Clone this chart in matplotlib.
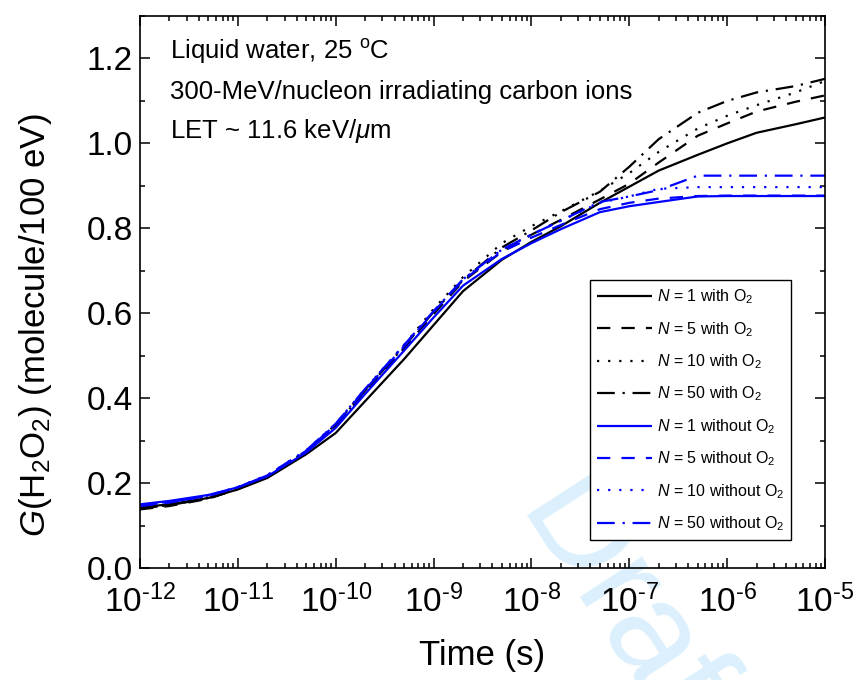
import matplotlib
matplotlib.use("Agg")
import matplotlib.pyplot as plt
import numpy as np

plt.rcParams['font.family'] = ['Liberation Sans', 'DejaVu Sans']
plt.rcParams['mathtext.fontset'] = 'custom'
plt.rcParams['mathtext.rm'] = 'Liberation Sans'
plt.rcParams['mathtext.it'] = 'Liberation Sans:italic'
plt.rcParams['mathtext.bf'] = 'Liberation Sans:bold'
plt.rcParams['axes.unicode_minus'] = False

# ---- data ----
time_s = [1e-12, 2e-12, 5e-12, 1e-11, 2e-11, 5e-11, 1e-10, 2e-10, 5e-10, 1e-9, 2e-9,
          5e-9, 1e-8, 2e-8, 5e-8, 1e-7, 2e-7, 5e-7, 1e-6, 2e-6, 5e-6, 1e-5]

n1_with_o2 = [0.143, 0.150, 0.165, 0.185, 0.212, 0.268, 0.318, 0.393, 0.492, 0.572, 0.652,
              0.726, 0.768, 0.805, 0.860, 0.898, 0.936, 0.973, 1.000, 1.025, 1.045, 1.061]
n5_with_o2 = [0.138, 0.146, 0.163, 0.186, 0.215, 0.273, 0.335, 0.415, 0.518, 0.598, 0.675,
              0.745, 0.785, 0.820, 0.868, 0.905, 0.955, 1.018, 1.047, 1.075, 1.098, 1.113]
n10_with_o2 = [0.140, 0.148, 0.165, 0.187, 0.216, 0.275, 0.338, 0.420, 0.525, 0.610, 0.685,
               0.765, 0.805, 0.840, 0.888, 0.930, 0.980, 1.035, 1.065, 1.090, 1.120, 1.147]
n50_with_o2 = [0.140, 0.148, 0.164, 0.186, 0.215, 0.274, 0.336, 0.418, 0.522, 0.603, 0.678,
               0.755, 0.795, 0.838, 0.886, 0.945, 1.010, 1.072, 1.100, 1.120, 1.135, 1.152]
n1_without_o2 = [0.150, 0.158, 0.172, 0.190, 0.216, 0.272, 0.330, 0.410, 0.512, 0.590, 0.665,
                 0.728, 0.765, 0.798, 0.838, 0.852, 0.862, 0.875, 0.876, 0.876, 0.876, 0.876]
n5_without_o2 = [0.146, 0.154, 0.170, 0.190, 0.218, 0.276, 0.338, 0.420, 0.522, 0.603, 0.678,
                 0.745, 0.778, 0.808, 0.845, 0.860, 0.870, 0.876, 0.877, 0.877, 0.877, 0.877]
n10_without_o2 = [0.148, 0.156, 0.171, 0.191, 0.219, 0.277, 0.340, 0.422, 0.525, 0.605, 0.680,
                  0.750, 0.785, 0.818, 0.860, 0.875, 0.893, 0.897, 0.897, 0.897, 0.897, 0.897]
n50_without_o2 = [0.147, 0.155, 0.170, 0.190, 0.218, 0.277, 0.340, 0.422, 0.525, 0.605, 0.680,
                  0.750, 0.785, 0.818, 0.862, 0.875, 0.890, 0.924, 0.924, 0.924, 0.924, 0.924]

labels = [r'$N$ = 1 with O$_2$', r'$N$ = 5 with O$_2$', r'$N$ = 10 with O$_2$',
          r'$N$ = 50 with O$_2$', r'$N$ = 1 without O$_2$', r'$N$ = 5 without O$_2$',
          r'$N$ = 10 without O$_2$', r'$N$ = 50 without O$_2$']
series = [n1_with_o2, n5_with_o2, n10_with_o2, n50_with_o2,
          n1_without_o2, n5_without_o2, n10_without_o2, n50_without_o2]
colors = ['black'] * 4 + ['#0000ff'] * 4
dash_styles = [(0, ()), (0, (6, 5)), (0, (1, 4)), (0, (8, 3.5, 1, 3.5))] * 2

x_ticks = [1e-12, 1e-11, 1e-10, 1e-9, 1e-8, 1e-7, 1e-6, 1e-5]
x_tick_labels = [r'10$^{\text{-12}}$', r'10$^{\text{-11}}$', r'10$^{\text{-10}}$',
                 r'10$^{\text{-9}}$', r'10$^{\text{-8}}$', r'10$^{\text{-7}}$',
                 r'10$^{\text{-6}}$', r'10$^{\text{-5}}$']
y_ticks = [0.0, 0.2, 0.4, 0.6, 0.8, 1.0, 1.2]

# ---- figure ----
fig = plt.figure(figsize=(8.57, 6.8), dpi=100)
ax = fig.add_axes([140 / 857, 1 - 568 / 680, 685 / 857, 552 / 680])
ax.set_facecolor('none')

# watermark
fig.text(545 / 857, 1 - 495 / 680, 'Draft', fontsize=100, color='#dbf0fc',
         rotation=-57, rotation_mode='anchor', ha='left', va='center', zorder=-5)

for y, lab, c, ls in zip(series, labels, colors, dash_styles):
    ax.plot(time_s, y, color=c, linestyle=ls, linewidth=1.6, label=lab)

ax.set_xscale('log')
ax.set_xlim(1e-12, 1e-5)
ax.set_ylim(0, 1.3)
ax.set_xticks(x_ticks)
ax.set_xticklabels(x_tick_labels)
ax.set_yticks(y_ticks)
ax.set_yticklabels([f'{v:.1f}' for v in y_ticks])
ax.yaxis.set_minor_locator(matplotlib.ticker.MultipleLocator(0.1))
ax.xaxis.set_minor_locator(matplotlib.ticker.LogLocator(base=10, subs=np.arange(2, 10), numticks=20))
ax.xaxis.set_minor_formatter(matplotlib.ticker.NullFormatter())

ax.tick_params(which='both', direction='in', top=True, right=True, width=1.1)
ax.tick_params(which='major', length=7, labelsize=24)
ax.tick_params(axis='y', which='major', pad=5)
ax.tick_params(axis='x', which='major', pad=12)
ax.tick_params(which='minor', length=3.5)
for s in ax.spines.values():
    s.set_linewidth(1.2)

ax.set_xlabel('Time (s)', fontsize=25)
ax.xaxis.set_label_coords(0.5, -0.128)
ax.set_ylabel(r'$G$(H$_2$O$_2$) (molecule/100 eV)', fontsize=25)
ax.yaxis.set_label_coords(-0.125, 0.44)

ax.text(0.044, 0.935, r'Liquid water, 25 $^{\rm o}$C', transform=ax.transAxes,
        fontsize=18.5, va='center', ha='left')
ax.text(0.044, 0.862, '300-MeV/nucleon irradiating carbon ions', transform=ax.transAxes,
        fontsize=18.5, va='center', ha='left')
ax.text(0.044, 0.792, r'LET ~ 11.6 keV/$\mu$m', transform=ax.transAxes,
        fontsize=18.5, va='center', ha='left')

leg = ax.legend(loc='lower right', bbox_to_anchor=(0.951, 0.05), fontsize=11.5,
                handlelength=3.45, labelspacing=0.86, handletextpad=0.3,
                borderpad=0.45, borderaxespad=0, fancybox=False, framealpha=1,
                edgecolor='black')
leg.get_frame().set_linewidth(1.0)

fig.savefig('out.png', dpi=100)
